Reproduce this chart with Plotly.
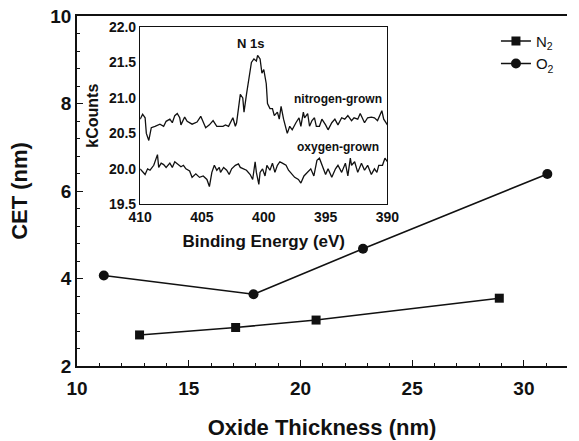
import plotly.graph_objects as go

# Main chart data
n2_thickness = [12.8, 17.1, 20.7, 28.9]
n2_cet = [2.71, 2.88, 3.05, 3.55]
o2_thickness = [11.2, 17.9, 22.8, 31.05]
o2_cet = [4.07, 3.64, 4.68, 6.39]

# Inset XPS N 1s spectra (binding energy eV, kCounts)
nit_energy = [410.0, 409.8, 409.6, 409.5, 409.3, 409.1, 408.8, 408.4, 408.1, 407.9,
              407.6, 407.4, 407.2, 407.0, 406.8, 406.7, 406.4, 406.2, 405.8, 405.4,
              405.1, 404.9, 404.7, 404.4, 404.1, 403.8, 403.3, 403.1, 402.85, 402.5,
              402.3, 402.2, 401.9, 401.7, 401.6, 401.4, 401.2, 401.0, 400.8, 400.6,
              400.5, 400.3, 400.15, 400.0, 399.8, 399.7, 399.5, 399.3, 399.15, 398.9,
              398.75, 398.6, 398.4, 398.25, 398.1, 397.9, 397.7, 397.4, 397.15, 397.0,
              396.8, 396.7, 396.45, 396.3, 396.1, 395.9, 395.75, 395.5, 395.3, 395.0,
              394.8, 394.5, 394.25, 394.0, 393.7, 393.45, 393.2, 392.9, 392.7, 392.4,
              392.2, 391.85, 391.6, 391.3, 391.05, 390.8, 390.45, 390.3, 390.0]
nit_counts = [20.70, 20.77, 20.72, 20.50, 20.40, 20.58, 20.60, 20.63, 20.60, 20.67,
              20.70, 20.65, 20.75, 20.78, 20.72, 20.62, 20.73, 20.67, 20.63, 20.66,
              20.74, 20.65, 20.58, 20.62, 20.68, 20.60, 20.60, 20.62, 20.60, 20.72,
              20.60, 20.65, 21.05, 21.00, 20.80, 21.05, 21.30, 21.50, 21.55, 21.52,
              21.60, 21.55, 21.35, 21.40, 21.20, 20.92, 20.85, 20.85, 20.75, 20.80,
              20.70, 20.88, 20.70, 20.60, 20.50, 20.60, 20.55, 20.65, 20.72, 20.60,
              20.80, 20.72, 20.78, 20.60, 20.68, 20.72, 20.60, 20.60, 20.70, 20.62,
              20.55, 20.65, 20.70, 20.62, 20.72, 20.70, 20.75, 20.68, 20.72, 20.70,
              20.78, 20.65, 20.72, 20.73, 20.72, 20.68, 20.82, 20.70, 20.62]

oxy_energy = [410.0, 409.7, 409.6, 409.4, 409.2, 408.9, 408.75, 408.6, 408.5, 408.3,
              408.1, 407.9, 407.6, 407.4, 407.2, 406.95, 406.7, 406.5, 406.3, 406.0,
              405.8, 405.5, 405.2, 404.9, 404.6, 404.4, 404.2, 404.0, 403.8, 403.6,
              403.5, 403.25, 403.0, 402.8, 402.6, 402.3, 402.05, 401.9, 401.65, 401.4,
              401.1, 400.9, 400.7, 400.6, 400.4, 400.3, 400.1, 399.9, 399.75, 399.5,
              399.3, 399.1, 398.9, 398.7, 398.5, 398.2, 398.0, 397.7, 397.5, 397.2,
              397.0, 396.75, 396.5, 396.2, 395.95, 395.7, 395.5, 395.3, 395.0, 394.8,
              394.5, 394.2, 394.0, 393.7, 393.4, 393.2, 393.0, 392.9, 392.65, 392.4,
              392.1, 391.85, 391.6, 391.3, 391.05, 390.85, 390.7, 390.4, 390.2, 390.0]
oxy_counts = [20.00, 19.95, 19.92, 20.00, 19.98, 20.05, 20.12, 20.20, 20.02, 20.08,
              20.06, 20.02, 20.08, 20.02, 20.10, 20.06, 20.03, 20.05, 20.00, 19.97,
              19.88, 19.93, 19.88, 19.90, 19.85, 19.75, 19.95, 20.05, 19.98, 20.02,
              19.95, 20.02, 19.98, 19.92, 20.00, 20.05, 20.07, 20.02, 20.00, 19.98,
              19.92, 19.85, 20.10, 19.95, 19.78, 19.95, 20.00, 19.90, 20.05, 19.98,
              20.08, 19.95, 20.05, 20.10, 20.08, 20.05, 19.98, 19.92, 19.88, 19.85,
              19.80, 19.90, 19.95, 20.00, 19.90, 20.12, 20.15, 20.05, 19.92, 20.00,
              19.88, 20.00, 20.05, 19.95, 20.08, 19.90, 20.15, 20.05, 20.10, 19.95,
              20.08, 19.98, 20.05, 19.92, 20.00, 19.95, 20.05, 20.05, 20.15, 20.10]

FONT = "Liberation Sans"
BLACK = "#111111"

fig = go.Figure()

fig.add_trace(go.Scatter(x=n2_thickness, y=n2_cet, mode="lines+markers",
                         name="N<sub>2</sub>",
                         line=dict(color=BLACK, width=1.6),
                         marker=dict(symbol="square", size=9, color=BLACK)))
fig.add_trace(go.Scatter(x=o2_thickness, y=o2_cet, mode="lines+markers",
                         name="O<sub>2</sub>",
                         line=dict(color=BLACK, width=1.6),
                         marker=dict(symbol="circle", size=10, color=BLACK)))

fig.add_trace(go.Scatter(x=nit_energy, y=nit_counts, mode="lines",
                         line=dict(color=BLACK, width=1.3),
                         xaxis="x2", yaxis="y2", showlegend=False))
fig.add_trace(go.Scatter(x=oxy_energy, y=oxy_counts, mode="lines",
                         line=dict(color=BLACK, width=1.3),
                         xaxis="x2", yaxis="y2", showlegend=False))

fig.update_layout(
    width=579, height=441,
    margin=dict(l=77, r=0, t=16, b=75),
    paper_bgcolor="white", plot_bgcolor="white",
    font=dict(family=FONT, color=BLACK),
    xaxis=dict(range=[10, 31.93], dtick=5, tick0=10,
               showline=True, linecolor=BLACK, linewidth=1.6, mirror=True,
               ticks="inside", ticklen=6, tickwidth=1.2, tickcolor=BLACK,
               minor=dict(dtick=1, ticks="inside", ticklen=3, tickcolor=BLACK),
               showgrid=False, zeroline=False, ticklabelstandoff=4,
               tickfont=dict(size=19, family=FONT, weight="bold"),
               title=dict(text="Oxide Thickness (nm)", standoff=22,
                          font=dict(size=22, family=FONT, weight="bold"))),
    yaxis=dict(range=[2, 10], dtick=2, tick0=2,
               showline=True, linecolor=BLACK, linewidth=1.6,
               ticks="inside", ticklen=6, tickwidth=1.2, tickcolor=BLACK,
               minor=dict(dtick=0.4, ticks="inside", ticklen=3, tickcolor=BLACK),
               showgrid=False, zeroline=False,
               tickfont=dict(size=19, family=FONT, weight="bold"),
               title=dict(text="CET (nm)", standoff=17,
                          font=dict(size=22, family=FONT, weight="bold"))),
    xaxis2=dict(domain=[0.1289, 0.6335], anchor="y2", range=[410, 390],
                dtick=5, tick0=390,
                showline=True, linecolor=BLACK, linewidth=1.4, mirror=True,
                ticks="", showgrid=False, zeroline=False,
                tickfont=dict(size=14, family=FONT, weight="bold"),
                title=dict(text="Binding Energy (eV)", standoff=10,
                           font=dict(size=17, family=FONT, weight="bold"))),
    yaxis2=dict(domain=[0.462, 0.9686], anchor="x2", range=[19.5, 22.0],
                dtick=0.5, tick0=19.5, tickformat=".1f",
                showline=True, linecolor=BLACK, linewidth=1.4, mirror=True,
                ticks="", showgrid=False, zeroline=False,
                tickfont=dict(size=14, family=FONT, weight="bold"),
                title=dict(text="kCounts", standoff=6,
                           font=dict(size=16, family=FONT, weight="bold"))),
    legend=dict(x=0.855, y=0.975, xanchor="left", yanchor="top",
                bgcolor="rgba(0,0,0,0)", itemwidth=30,
                tracegroupgap=0, font=dict(size=15, family=FONT, color=BLACK)),
    annotations=[
        dict(text="N 1s", x=401.1, y=21.77, xref="x2", yref="y2",
             showarrow=False, font=dict(size=13, family=FONT, weight="bold")),
        dict(text="nitrogen-grown", x=394.0, y=20.98, xref="x2", yref="y2",
             showarrow=False, font=dict(size=12, family=FONT, weight="bold")),
        dict(text="oxygen-grown", x=394.0, y=20.31, xref="x2", yref="y2",
             showarrow=False, font=dict(size=12, family=FONT, weight="bold")),
    ],
)

fig.write_html("out.html")
